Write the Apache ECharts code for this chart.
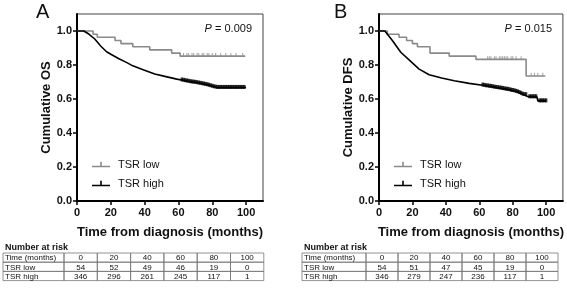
<!DOCTYPE html>
<html>
<head>
<meta charset="utf-8">
<script src="https://cdn.jsdelivr.net/npm/echarts@6/dist/echarts.min.js"></script>
<style>
html, body { margin: 0; padding: 0; background: #fff; }
#chart { width: 567px; height: 289px; }
</style>
</head>
<body>
<div id="chart"></div>
<script>
// tick labels
var xTicks = [0, 20, 40, 60, 80, 100];
var yTicks = [0, 0.2, 0.4, 0.6, 0.8, 1.0];

// A: overall survival, [months, survival]
var osLow = [[0, 1], [9.5, 0.981], [12, 0.963], [22.5, 0.944], [26, 0.926], [33, 0.907], [43, 0.889], [56, 0.870], [61, 0.852], [99.5, 0.852]];
var osHigh = [[0, 1], [4, 1], [7, 0.982], [10.5, 0.953], [14, 0.912], [17.5, 0.878], [20, 0.863], [24.5, 0.838], [29.5, 0.814], [33, 0.795], [39.5, 0.771], [46, 0.747], [52, 0.733], [59, 0.717], [65, 0.706], [70, 0.698], [75, 0.688], [79, 0.678], [83, 0.668], [100, 0.668]];
var osLowCensor = [[63, 0.852], [65, 0.852], [66, 0.852], [68, 0.852], [69, 0.852], [71, 0.852], [72, 0.852], [74, 0.852], [75, 0.852], [77, 0.852], [78, 0.852], [80, 0.852], [82, 0.852], [85, 0.852], [88, 0.852], [91, 0.852], [94, 0.852], [98, 0.852]];
var osHighCensor = [[62, 0.712], [63, 0.710], [64, 0.708], [65, 0.706], [66, 0.704], [67, 0.702], [68, 0.700], [69, 0.699], [70, 0.698], [71, 0.696], [72, 0.694], [73, 0.692], [74, 0.690], [75, 0.688], [76, 0.686], [77, 0.684], [78, 0.681], [79, 0.678], [80, 0.675], [81, 0.672], [82, 0.670], [83, 0.668], [84, 0.668], [85, 0.668], [86, 0.668], [87, 0.668], [88, 0.668], [89, 0.668], [90, 0.668], [91, 0.668], [92, 0.668], [93, 0.668], [94, 0.668], [95, 0.668], [96, 0.668], [97, 0.668], [98, 0.668], [99, 0.668]];

// B: disease free survival
var dfsLow = [[0, 1], [5, 0.981], [12, 0.963], [16.5, 0.944], [20, 0.926], [23, 0.907], [30.5, 0.870], [42, 0.852], [58, 0.833], [88, 0.735], [99.5, 0.735]];
var dfsHigh = [[0, 1], [3.5, 1], [8, 0.944], [13, 0.875], [18, 0.830], [24, 0.776], [30, 0.743], [37.5, 0.723], [45, 0.707], [54, 0.692], [64, 0.678], [76, 0.658], [82, 0.645], [86, 0.628], [89, 0.614], [94.5, 0.612], [95, 0.589], [100, 0.589]];
var dfsLowCensor = [[65, 0.833], [66, 0.833], [67, 0.833], [69, 0.833], [70, 0.833], [72, 0.833], [73, 0.833], [74, 0.833], [75, 0.833], [76, 0.833], [77, 0.833], [79, 0.833], [80, 0.833], [82, 0.833], [85, 0.833], [91, 0.735], [93, 0.735], [95, 0.735], [98, 0.735]];
var dfsHighCensor = [[62, 0.682], [63, 0.680], [64, 0.678], [65, 0.677], [66, 0.675], [67, 0.674], [68, 0.672], [69, 0.670], [70, 0.668], [71, 0.667], [72, 0.665], [73, 0.664], [74, 0.662], [75, 0.660], [76, 0.658], [77, 0.657], [78, 0.655], [79, 0.652], [80, 0.650], [81, 0.648], [82, 0.645], [83, 0.642], [84, 0.638], [85, 0.633], [86, 0.628], [87, 0.626], [88, 0.625], [90, 0.613], [91, 0.613], [92, 0.613], [93, 0.613], [94, 0.613], [96, 0.589], [97, 0.589], [98, 0.589], [99, 0.589], [100, 0.589]];

// number at risk tables
var riskHeader = ['Time (months)', '0', '20', '40', '60', '80', '100'];
var riskLowA = [54, 52, 49, 46, 19, 0];
var riskHighA = [346, 296, 261, 245, 117, 1];
var riskLowB = [54, 51, 47, 45, 19, 0];
var riskHighB = [346, 279, 247, 236, 117, 1];

var FONT = 'Arial, "Liberation Sans", sans-serif';
var GRAY = '#8a8a8a';
var legendIcon = 'path://M0,5H18V6.6H0Z M8.2,1H9.8V6H8.2Z';

function xAxisOpt(idx) {
	return {
		type: 'value', gridIndex: idx, min: 0, max: 110,
		name: 'Time from diagnosis (months)', nameLocation: 'middle', nameGap: 25,
		nameTextStyle: { fontFamily: FONT, fontWeight: 'bold', fontSize: 13, color: '#111' },
		axisLine: { show: true, lineStyle: { color: '#000', width: 2 } },
		axisTick: { show: true, length: 4, lineStyle: { color: '#000', width: 1.5 }, customValues: xTicks },
		axisLabel: { customValues: xTicks, margin: 6, fontFamily: FONT, fontWeight: 'bold', fontSize: 11, color: '#111' },
		splitLine: { show: false }
	};
}
function yAxisOpt(idx, title) {
	return {
		type: 'value', gridIndex: idx, min: 0, max: 1.1,
		name: title, nameLocation: 'middle', nameGap: 24, nameRotate: 90,
		nameTextStyle: { fontFamily: FONT, fontWeight: 'bold', fontSize: 13, color: '#111' },
		axisLine: { show: true, lineStyle: { color: '#000', width: 2 } },
		axisTick: { show: true, length: 4, lineStyle: { color: '#000', width: 1.5 }, customValues: yTicks },
		axisLabel: {
			customValues: yTicks, margin: 5, fontFamily: FONT, fontWeight: 'bold', fontSize: 11, color: '#111',
			formatter: function (v) { return v.toFixed(1); }
		},
		splitLine: { show: false }
	};
}
function kmLine(name, idx, data, color, stepped) {
	return {
		name: name, type: 'line', xAxisIndex: idx, yAxisIndex: idx,
		step: stepped ? 'end' : false, showSymbol: false, symbol: 'none',
		lineStyle: { color: color, width: 1.6 }, itemStyle: { color: color },
		data: data, animation: false, silent: true
	};
}
function censor(name, idx, data, color, size, offset) {
	return {
		name: name, type: 'scatter', xAxisIndex: idx, yAxisIndex: idx,
		symbol: 'rect', symbolSize: size, symbolOffset: [0, offset],
		itemStyle: { color: color }, data: data, animation: false, silent: true
	};
}

// table built from the arrays above
function riskTable(left, top, firstW, colW, lowRow, highRow) {
	var els = [];
	var rowH = 9.2;
	var rows = [riskHeader, ['TSR low'].concat(lowRow), ['TSR high'].concat(highRow)];
	els.push({ type: 'text', left: left + 2, top: top - 10, style: { text: 'Number at risk', font: 'bold 9px ' + FONT, fill: '#111' } });
	for (var r = 0; r < rows.length; r++) {
		var x = left;
		for (var c = 0; c < rows[r].length; c++) {
			var w = c === 0 ? firstW : colW;
			var y = top + r * rowH;
			els.push({ type: 'rect', shape: { x: x, y: y, width: w, height: rowH }, style: { fill: 'none', stroke: '#777', lineWidth: 0.8 } });
			els.push({
				type: 'text', x: c === 0 ? x + 2 : x + w / 2, y: y + rowH / 2 + 0.5,
				style: { text: String(rows[r][c]), font: '8px ' + FONT, fill: '#111', align: c === 0 ? 'left' : 'center', verticalAlign: 'middle' }
			});
			x += w;
		}
	}
	return els;
}

var chart = echarts.init(document.getElementById('chart'), null, { renderer: 'canvas' });
var option = {
	backgroundColor: '#fff',
	animation: false,
	grid: [
		{ left: 77, top: 14, width: 186, height: 187, show: true, borderColor: '#444', borderWidth: 1, backgroundColor: 'transparent' },
		{ left: 379, top: 14, width: 185.5, height: 187, show: true, borderColor: '#444', borderWidth: 1, backgroundColor: 'transparent' }
	],
	xAxis: [xAxisOpt(0), xAxisOpt(1)],
	yAxis: [yAxisOpt(0, 'Cumulative OS'), yAxisOpt(1, 'Cumulative DFS')],
	legend: [
		{ left: 87, top: 154, orient: 'vertical', itemWidth: 18, itemHeight: 7, itemGap: 8, selectedMode: false,
		  textStyle: { fontFamily: FONT, fontSize: 11, color: '#111', padding: [0, 0, 0, 3] },
		  data: [{ name: 'TSR low', icon: legendIcon }, { name: 'TSR high', icon: legendIcon }] },
		{ left: 389, top: 154, orient: 'vertical', itemWidth: 18, itemHeight: 7, itemGap: 8, selectedMode: false,
		  textStyle: { fontFamily: FONT, fontSize: 11, color: '#111', padding: [0, 0, 0, 3] },
		  data: [{ name: 'TSR low', icon: legendIcon }, { name: 'TSR high', icon: legendIcon }] }
	],
	series: [
		kmLine('TSR low', 0, osLow, GRAY, true),
		kmLine('TSR high', 0, osHigh, '#000', false),
		censor('TSR low', 0, osLowCensor, GRAY, [1, 3.5], -1.5),
		censor('TSR high', 0, osHighCensor, '#000', [2.4, 4], -0.5),
		kmLine('TSR low', 1, dfsLow, GRAY, true),
		kmLine('TSR high', 1, dfsHigh, '#000', false),
		censor('TSR low', 1, dfsLowCensor, GRAY, [1, 3.5], -1.5),
		censor('TSR high', 1, dfsHighCensor, '#000', [2.4, 4], -0.5)
	],
	graphic: [
		{ type: 'text', left: 36, top: 2, style: { text: 'A', font: '20px ' + FONT, fill: '#111' } },
		{ type: 'text', left: 334, top: 2, style: { text: 'B', font: '20px ' + FONT, fill: '#111' } },
		{ type: 'text', right: 315, top: 23, style: { text: '{i|P} = 0.009', rich: { i: { fontStyle: 'italic', fontSize: 11, fontFamily: FONT } }, font: '11px ' + FONT, fill: '#111' } },
		{ type: 'text', right: 15, top: 23, style: { text: '{i|P} = 0.015', rich: { i: { fontStyle: 'italic', fontSize: 11, fontFamily: FONT } }, font: '11px ' + FONT, fill: '#111' } }
	].concat(riskTable(3, 253, 61, 33.3, riskLowA, riskHighA))
	 .concat(riskTable(302, 253, 64, 32, riskLowB, riskHighB))
};
chart.setOption(option);
</script>
</body>
</html>
